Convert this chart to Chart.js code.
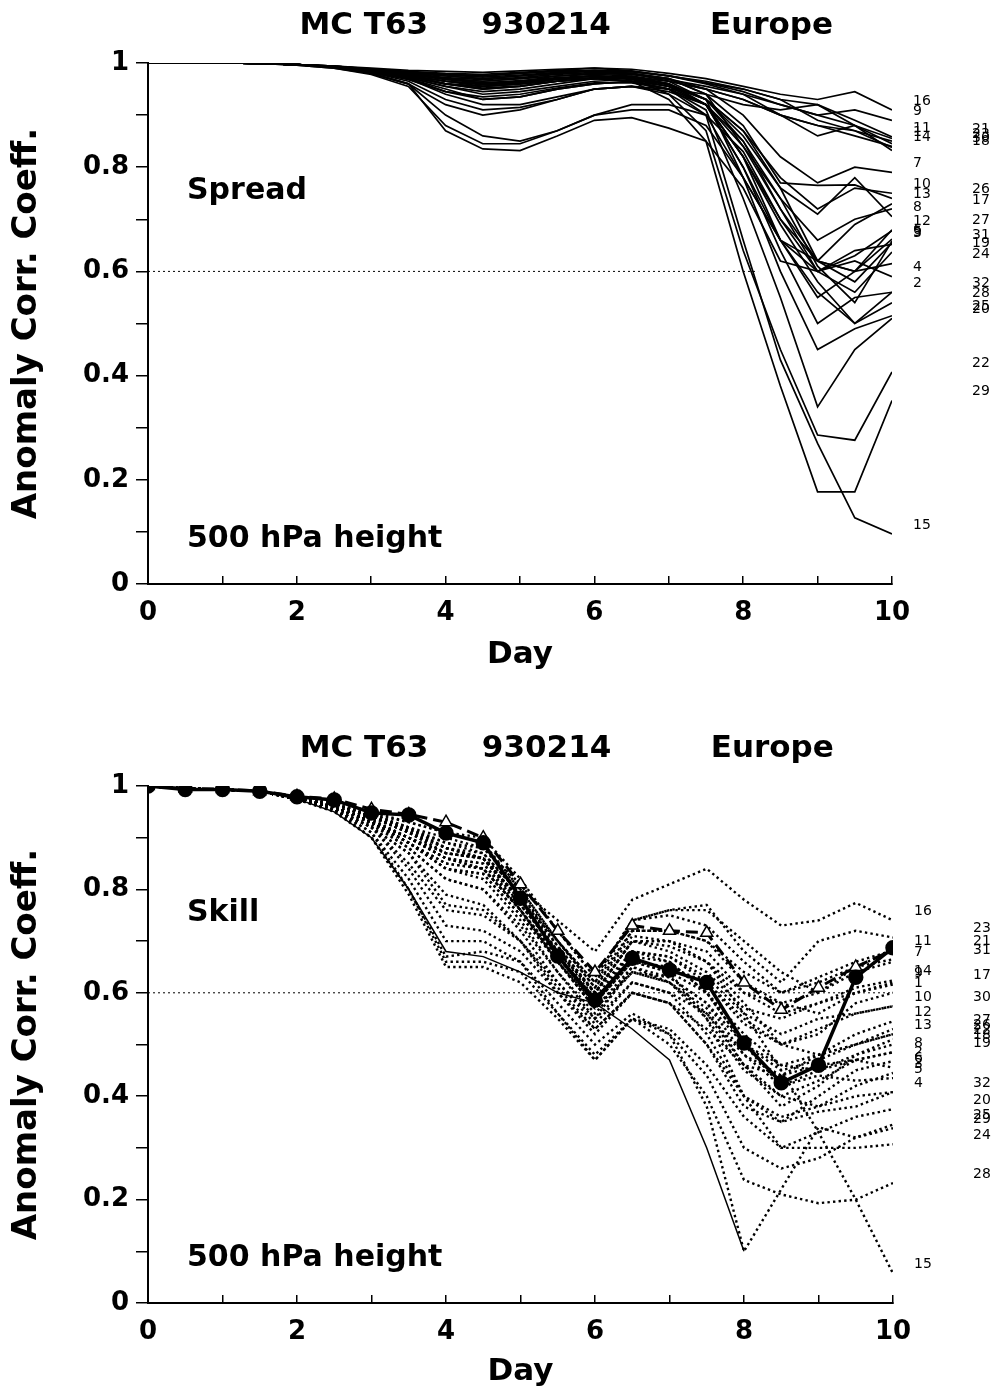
<!DOCTYPE html>
<html>
<head>
<meta charset="utf-8">
<script src="https://cdn.jsdelivr.net/npm/chart.js@4.4.1/dist/chart.umd.min.js"></script>
<style>
  body { margin: 0; background: #fff; }
  canvas { position: absolute; left: 0; }
  #spread { top: 0; }
  #skill { top: 700px; }
</style>
</head>
<body>
<canvas id="spread" width="999" height="700"></canvas>
<canvas id="skill" width="999" height="695"></canvas>
<script>
const FONT = '"DejaVu Sans"';

const days = [0, 0.5, 1, 1.5, 2, 2.5, 3, 3.5, 4, 4.5, 5, 5.5, 6, 6.5, 7, 7.5, 8, 8.5, 9, 9.5, 10];
const titleParts = ['MC T63', '930214', 'Europe'];
const titleDays = [2.9, 5.35, 8.38];
const refLevel = 0.6;

// Spread: ACC of each member against the control, members 1..32
const spreadMembers = [
  [1,1,1,.999,.997, .993,.985,.975,.96,.95, .955,.965,.97,.975,.965, .95,.93,.9,.88,.87, .85],
  [1,1,1,.999,.997, .992,.982,.97,.95,.93, .935,.95,.96,.965,.95, .92,.8,.66,.56,.5, .56],
  [1,1,1,.999,.997, .993,.986,.98,.975,.97, .975,.98,.985,.98,.97, .94,.84,.72,.62,.58, .655],
  [1,1,1,.999,.996, .99,.98,.96,.92,.9, .91,.93,.95,.955,.94, .9,.78,.66,.6,.62, .59],
  [1,1,1,.999,.997, .993,.987,.982,.978,.975, .98,.985,.985,.98,.965, .93,.85,.74,.61,.54, .658],
  [1,1,1,.999,.997, .992,.984,.972,.955,.945, .95,.96,.97,.972,.96, .92,.82,.66,.55,.6, .662],
  [1,1,1,.999,.997, .993,.986,.978,.97,.965, .97,.975,.98,.978,.97, .95,.9,.82,.77,.8, .79],
  [1,1,1,.999,.997, .993,.985,.975,.965,.96, .965,.97,.975,.972,.96, .93,.86,.76,.71,.78, .705],
  [1,1,1,.999,.997, .994,.988,.982,.978,.976, .98,.984,.986,.984,.975, .96,.94,.92,.9,.91, .89],
  [1,1,1,.999,.997, .992,.983,.97,.945,.93, .935,.95,.96,.965,.955, .93,.87,.78,.72,.76, .75],
  [1,1,1,.999,.997, .994,.988,.984,.98,.978, .982,.986,.99,.985,.975, .965,.95,.93,.92,.89, .858],
  [1,1,1,.999,.997, .992,.982,.965,.93,.91, .915,.93,.95,.955,.945, .92,.85,.72,.6,.63, .678],
  [1,1,1,.999,.997, .993,.986,.978,.97,.965, .97,.975,.978,.975,.96, .92,.82,.7,.62,.69, .73],
  [1,1,1,.999,.997, .993,.986,.977,.965,.955, .96,.97,.975,.972,.965, .95,.93,.9,.88,.86, .84],
  [1,1,1,.999,.997, .993,.985,.975,.96,.955, .96,.968,.972,.965,.95, .9,.66,.43,.27,.127, .096],
  [1,1,1,.999,.997, .994,.99,.986,.984,.982, .985,.988,.99,.988,.98, .97,.955,.94,.93,.945, .91],
  [1,1,1,.999,.997, .993,.985,.972,.955,.94, .945,.955,.965,.968,.955, .92,.84,.74,.66,.7, .72],
  [1,1,1,.999,.997, .993,.987,.98,.97,.962, .965,.975,.98,.978,.968, .955,.94,.9,.86,.88, .832],
  [1,1,1,.999,.997, .992,.98,.96,.9,.86, .85,.87,.9,.92,.92, .9,.83,.7,.6,.56, .637],
  [1,1,1,.999,.997, .993,.985,.975,.96,.955, .96,.965,.97,.965,.95, .91,.74,.55,.34,.45, .51],
  [1,1,1,.999,.997, .994,.988,.982,.975,.97, .975,.98,.985,.983,.975, .962,.945,.92,.9,.88, .855],
  [1,1,1,.999,.997, .993,.986,.975,.965,.96, .963,.97,.975,.97,.94, .87,.64,.45,.286,.276, .407],
  [1,1,1,.999,.997, .992,.983,.97,.94,.92, .92,.935,.95,.955,.95, .94,.92,.91,.92,.88, .845],
  [1,1,1,.999,.996, .99,.978,.955,.88,.845, .845,.87,.9,.91,.91, .88,.78,.66,.62,.6, .615],
  [1,1,1,.999,.997, .993,.986,.978,.968,.962, .966,.972,.976,.972,.96, .93,.78,.6,.45,.49, .515],
  [1,1,1,.999,.997, .993,.987,.98,.972,.968, .972,.978,.982,.98,.97, .94,.88,.77,.765,.766, .74],
  [1,1,1,.999,.997, .993,.985,.974,.96,.95, .955,.965,.972,.97,.958, .93,.87,.76,.62,.6, .68],
  [1,1,1,.999,.997, .992,.983,.968,.945,.935, .94,.952,.962,.962,.95, .92,.82,.69,.58,.5, .54],
  [1,1,1,.999,.997, .993,.985,.974,.96,.952, .956,.965,.97,.965,.93, .85,.6,.38,.177,.177, .352],
  [1,1,1,.999,.997, .994,.989,.983,.977,.973, .977,.982,.986,.984,.976, .962,.95,.93,.89,.87, .838],
  [1,1,1,.999,.997, .992,.98,.96,.87,.835, .832,.86,.89,.895,.875, .85,.76,.62,.6,.64, .652],
  [1,1,1,.999,.997, .993,.986,.976,.965,.958, .962,.97,.975,.97,.955, .92,.8,.64,.5,.55, .56]
];

// Skill: ACC of each member against the analysis, members 1..32
const skillMembers = [
  [1,.995,.993,.99,.975, .96,.93,.9,.87,.86, .77,.68,.6,.7,.7, .66,.58,.5,.52,.58, .60],
  [1,.995,.993,.99,.975, .955,.92,.87,.77,.76, .7,.6,.53,.6,.58, .5,.38,.35,.4,.45, .468],
  [1,.995,.993,.99,.975, .96,.93,.89,.84,.82, .74,.64,.55,.65,.62, .55,.45,.4,.38,.42, .445],
  [1,.995,.993,.99,.975, .96,.925,.88,.82,.8, .72,.62,.54,.62,.6, .52,.4,.35,.37,.38, .408],
  [1,.995,.993,.99,.975, .965,.94,.91,.88,.86, .78,.67,.58,.67,.66, .6,.5,.42,.44,.43, .435],
  [1,.995,.993,.99,.975, .96,.93,.9,.86,.84, .76,.66,.57,.64,.63, .58,.48,.44,.46,.47, .455],
  [1,.995,.993,.99,.976, .965,.945,.93,.91,.89, .8,.7,.62,.72,.72, .7,.62,.58,.6,.64, .66],
  [1,.995,.993,.99,.975, .96,.93,.9,.86,.85, .76,.66,.58,.66,.64, .6,.52,.46,.45,.47, .485],
  [1,.995,.993,.99,.976, .965,.94,.915,.89,.87, .79,.69,.6,.7,.68, .64,.57,.55,.58,.6, .62],
  [1,.995,.993,.99,.975, .96,.93,.89,.84,.83, .75,.66,.58,.68,.67, .62,.54,.5,.53,.56, .574],
  [1,.995,.993,.99,.977, .97,.95,.93,.91,.9, .82,.72,.63,.74,.75, .73,.66,.6,.63,.66, .682],
  [1,.995,.993,.99,.974, .955,.92,.84,.73,.72, .68,.6,.52,.6,.58, .53,.46,.44,.48,.52, .545],
  [1,.995,.993,.99,.975, .96,.93,.89,.85,.84, .76,.66,.57,.65,.63, .58,.5,.46,.48,.5, .52],
  [1,.995,.993,.99,.976, .965,.94,.92,.9,.88, .8,.7,.61,.71,.7, .68,.6,.56,.58,.61, .624],
  [1,.995,.993,.99,.975, .96,.93,.9,.87,.86, .78,.68,.6,.7,.7, .66,.56,.45,.33,.2, .057],
  [1,.995,.993,.99,.976, .965,.945,.92,.88,.86, .8,.74,.68,.78,.81, .84,.78,.73,.74,.774, .74],
  [1,.995,.993,.99,.976, .965,.94,.91,.87,.86, .78,.69,.6,.7,.69, .66,.6,.58,.56,.6, .616],
  [1,.995,.993,.99,.974, .955,.92,.85,.76,.75, .7,.62,.55,.62,.6, .56,.48,.42,.45,.48, .5],
  [1,.995,.993,.99,.975, .96,.93,.88,.82,.8, .73,.64,.56,.64,.62, .57,.46,.4,.43,.47, .485],
  [1,.995,.993,.99,.975, .96,.935,.9,.86,.84, .76,.67,.59,.66,.64, .55,.4,.3,.33,.36, .375],
  [1,.995,.993,.99,.977, .965,.945,.92,.89,.88, .81,.72,.63,.74,.76, .76,.7,.64,.6,.65, .682],
  [1,.995,.993,.99,.975, .96,.93,.89,.84,.83, .75,.66,.57,.64,.62, .56,.46,.38,.42,.48, .51],
  [1,.995,.993,.99,.976, .965,.94,.91,.88,.86, .78,.7,.62,.74,.76, .77,.68,.62,.7,.72, .707],
  [1,.995,.993,.99,.974, .955,.91,.8,.66,.66, .64,.56,.48,.55,.53, .46,.36,.3,.3,.3, .307],
  [1,.995,.993,.99,.974, .955,.9,.79,.65,.65, .62,.55,.47,.55,.52, .44,.3,.26,.28,.32, .345],
  [1,.995,.993,.99,.976, .965,.94,.91,.87,.86, .78,.68,.6,.68,.66, .6,.5,.45,.47,.5, .52],
  [1,.995,.993,.99,.975, .96,.93,.89,.85,.84, .76,.67,.58,.66,.65, .62,.55,.5,.48,.5, .53],
  [1,.995,.993,.99,.974, .95,.9,.8,.67,.68, .66,.56,.47,.55,.5, .4,.238,.21,.193,.2, .232],
  [1,.995,.993,.99,.974, .955,.91,.82,.7,.7, .66,.58,.5,.56,.52, .38,.1,.22,.34,.32, .338],
  [1,.995,.993,.99,.975, .96,.935,.9,.86,.85, .77,.68,.59,.68,.67, .63,.56,.52,.55,.56, .574],
  [1,.995,.993,.99,.976, .965,.94,.915,.88,.87, .79,.7,.61,.72,.72, .7,.64,.6,.62,.65, .665],
  [1,.995,.993,.99,.975, .955,.92,.87,.79,.77, .7,.61,.53,.6,.58, .5,.4,.36,.38,.4, .408]
];

const skillControl = [1,.993,.993,.99,.979, .973,.948,.944,.909,.89, .783,.671,.586,.667,.644, .62,.503,.426,.46,.63, .687];
const skillMean = [1,.995,.994,.99,.98, .975,.955,.945,.93,.9, .81,.72,.64,.73,.72, .716,.62,.567,.61,.65, .683];
const skillOper = [1,.995,.993,.99,.975, .95,.9,.8,.68,.67, .64,.6,.58,.53,.47, .3,.1,null,null,null,null];

const spreadRefEnd = 8.2;
const skillRefEnd = 10;

function toPoints(vals) {
  return vals.map((v, i) => ({ x: days[i], y: v }));
}

function memberSets(members, dotted) {
  return members.map(vals => ({
    data: toPoints(vals),
    borderColor: '#000',
    borderWidth: dotted ? 2.4 : 1.7,
    borderDash: dotted ? [2.4, 3.2] : [],
    pointRadius: 0,
    fill: false,
    tension: 0
  }));
}

function refSet(end) {
  return {
    data: [{ x: 0, y: refLevel }, { x: end, y: refLevel }],
    borderColor: '#000',
    borderWidth: 1,
    borderDash: [2, 3],
    pointRadius: 0
  };
}

function textPlugin(caption, members) {
  return {
    id: 'texts',
    afterDatasetsDraw(chart) {
      const ctx = chart.ctx;
      const a = chart.chartArea;
      const x = chart.scales.x;
      const y = chart.scales.y;
      ctx.save();
      ctx.fillStyle = '#000';
      ctx.textBaseline = 'middle';
      ctx.textAlign = 'center';
      ctx.font = 'bold 31px ' + FONT;
      titleParts.forEach((t, i) => ctx.fillText(t, x.getPixelForValue(titleDays[i]), a.top - 37));
      ctx.textAlign = 'left';
      ctx.font = 'bold 30px ' + FONT;
      ctx.fillText(caption, a.left + 39, y.getPixelForValue(0.753));
      ctx.fillText('500 hPa height', a.left + 39, y.getPixelForValue(0.086));
      // member numbers at the end of each curve
      ctx.font = '14px ' + FONT;
      members.forEach((vals, i) => {
        const end = vals[vals.length - 1];
        const lx = i < 16 ? a.right + 21 : a.right + 80;
        ctx.fillText(String(i + 1), lx, y.getPixelForValue(end) - 9);
      });
      ctx.restore();
    }
  };
}

function makePanel(id, datasets, caption, members, padTop, padRight, xHeight, dayPad) {
  const tickFont = { family: FONT, size: 26, weight: 'bold' };
  new Chart(document.getElementById(id), {
    type: 'line',
    data: { datasets: datasets },
    options: {
      responsive: false,
      animation: false,
      layout: { padding: { top: padTop, right: padRight, left: 0, bottom: 0 } },
      plugins: { legend: { display: false }, tooltip: { enabled: false } },
      scales: {
        x: {
          type: 'linear', min: 0, max: 10,
          border: { color: '#000', width: 2 },
          grid: { drawOnChartArea: false, color: '#000', lineWidth: 1.5, tickLength: -8 },
          ticks: {
            stepSize: 1, autoSkip: false, maxRotation: 0, padding: 22, color: '#000', font: tickFont,
            callback: v => (v % 2 === 0 ? String(v) : '')
          },
          title: { display: true, text: 'Day', color: '#000', font: { family: FONT, size: 31, weight: 'bold' }, padding: { top: 0, bottom: dayPad } },
          afterFit: s => { s.height = xHeight; s.paddingLeft = 0; s.paddingRight = 0; }
        },
        y: {
          min: 0, max: 1,
          border: { color: '#000', width: 2 },
          grid: { drawOnChartArea: false, color: '#000', lineWidth: 1.5, tickLength: 12 },
          ticks: {
            stepSize: 0.1, autoSkip: false, padding: 7, color: '#000', font: tickFont,
            callback: v => {
              const r = Math.round(v * 10);
              if (r % 2) return '';
              return r === 0 ? '0' : r === 10 ? '1' : (r / 10).toFixed(1);
            }
          },
          title: { display: true, text: 'Anomaly Corr. Coeff.', color: '#000', font: { family: FONT, size: 34, weight: 'bold' }, padding: { top: 7, bottom: 0 } },
          afterFit: s => { s.width = 148; s.paddingTop = 0; s.paddingBottom = 0; }
        }
      }
    },
    plugins: [textPlugin(caption, members)]
  });
}

// upper panel
makePanel('spread', memberSets(spreadMembers, false).concat([refSet(spreadRefEnd)]),
  'Spread', spreadMembers, 63, 107, 116, 26);

// lower panel: control (solid, circles), ensemble mean (dashed, triangles), thin solid, members dotted
const skillSets = [
  {
    data: toPoints(skillControl), borderColor: '#000', borderWidth: 3.5, tension: 0,
    pointStyle: 'circle', pointRadius: 6, pointBackgroundColor: '#000', pointBorderColor: '#000'
  },
  {
    data: toPoints(skillMean), borderColor: '#000', borderWidth: 3, borderDash: [12, 6], tension: 0,
    pointStyle: 'triangle', pointRadius: 7, pointBackgroundColor: '#fff', pointBorderColor: '#000', pointBorderWidth: 1.5
  },
  {
    data: toPoints(skillOper), borderColor: '#000', borderWidth: 1.5, tension: 0, pointRadius: 0, spanGaps: false
  }
].concat(memberSets(skillMembers, true)).concat([refSet(skillRefEnd)]);

makePanel('skill', skillSets, 'Skill', skillMembers, 86, 106, 92, 4);
</script>
</body>
</html>
